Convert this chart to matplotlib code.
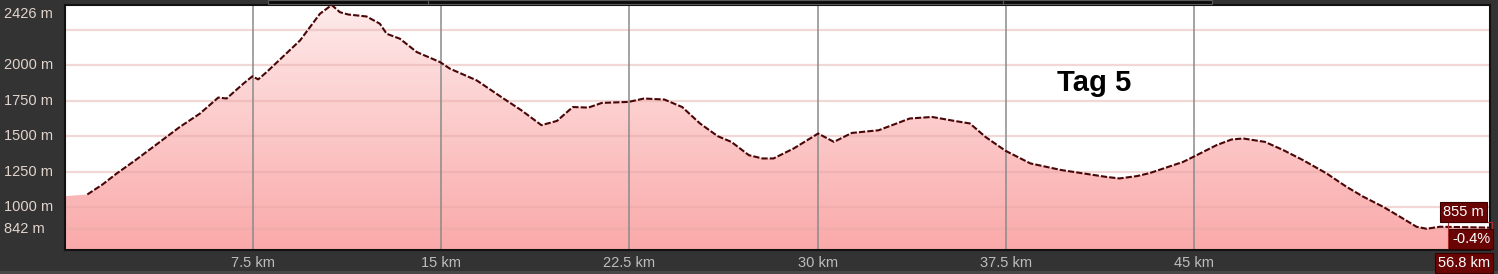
import matplotlib
matplotlib.use("Agg")
import matplotlib.pyplot as plt
import matplotlib.transforms as mtransforms
from matplotlib.patches import Rectangle
from matplotlib.colors import LinearSegmentedColormap
import numpy as np

# ---- data ----
dist_km = [0.0, 0.89, 1.5, 2.06, 2.8, 3.52, 4.58, 5.38, 6.11, 6.44, 7.11, 7.47, 7.70,
           8.04, 9.37, 10.16, 10.63, 10.96, 11.29, 12.02, 12.55, 12.82, 13.35, 14.02,
           14.95, 15.34, 16.41, 17.48, 18.19, 18.99, 19.61, 20.24, 20.86, 21.40, 22.46,
           23.08, 23.89, 24.60, 25.31, 26.02, 26.56, 27.26, 27.80, 28.24, 29.05, 30.02,
           30.65, 31.36, 32.43, 33.67, 34.56, 35.45, 36.07, 36.69, 37.49, 38.48, 39.72,
           40.61, 41.50, 42.03, 42.74, 43.24, 44.57, 44.97, 45.90, 46.50, 46.96, 47.83,
           48.56, 49.35, 50.29, 51.08, 51.75, 52.54, 53.21, 53.87, 54.27, 54.80, 56.8]
elev_m = [1077, 1089, 1160, 1237, 1330, 1425, 1566, 1660, 1773, 1766, 1871, 1923, 1901,
          1953, 2176, 2364, 2426, 2375, 2359, 2345, 2294, 2223, 2188, 2094,
          2023, 1977, 1894, 1766, 1683, 1578, 1608, 1706, 1702, 1735, 1742,
          1766, 1759, 1706, 1590, 1500, 1460, 1366, 1343, 1343, 1414, 1519,
          1460, 1523, 1542, 1625, 1636, 1608, 1590, 1495, 1397, 1308, 1261,
          1237, 1213, 1202, 1219, 1240, 1319, 1354, 1437, 1477, 1484, 1460,
          1402, 1331, 1237, 1143, 1073, 1002, 932, 861, 847, 861, 855]
x_ticks = [7.5, 15, 22.5, 30, 37.5, 45]
x_tick_labels = ["7.5 km", "15 km", "22.5 km", "30 km", "37.5 km", "45 km"]
y_grid = [2250, 2000, 1750, 1500, 1250, 1000, 842]
y_label_vals = [2426, 2000, 1750, 1500, 1250, 1000, 842]
y_labels = ["2426 m", "2000 m", "1750 m", "1500 m", "1250 m", "1000 m", "842 m"]
end_grade = "-0.4%"
title = "Tag 5"

W, H = 1498, 274
BG = "#333333"
FONT = ["Liberation Sans", "DejaVu Sans"]

fig = plt.figure(figsize=(W / 100, H / 100), dpi=100, facecolor=BG)
L, R, T, B = 65, 1490, 5, 250
ax = fig.add_axes([L / W, 1 - B / H, (R - L) / W, (B - T) / H])
ax.set_facecolor("white")

ymin, ymax = 697, 2426
xmax = dist_km[-1]

# gradient fill under profile (light at top, stronger pink at bottom)
poly = ax.fill_between(dist_km, elev_m, ymin, facecolor="none", edgecolor="none")
grad = np.linspace(1, 0, 256).reshape(-1, 1)
cmap = LinearSegmentedColormap.from_list("pinkgrad", ["#feeaea", "#faa9a9"])
im = ax.imshow(grad, cmap=cmap, aspect="auto", extent=[0, xmax, ymin, ymax],
               origin="lower", zorder=1, interpolation="bilinear")
im.set_clip_path(poly.get_paths()[0], transform=ax.transData)
ax.set_xlim(0, xmax)
ax.set_ylim(ymin, ymax)

# grid lines
for yv in y_grid:
    ax.axhline(yv, color="#e4a8a8", alpha=0.45, lw=1.6, zorder=2)
for xv in x_ticks:
    ax.axvline(xv, color="#8a8a8a", lw=1.1, zorder=2)

# profile line
ax.plot(dist_km[1:], elev_m[1:], color="#4a0606", lw=1.5, zorder=3,
        dashes=(3.0, 1.0), solid_capstyle="butt")

# axes styling
for s in ax.spines.values():
    s.set_color("#111111")
    s.set_linewidth(1.5)
ax.set_yticks([])
ax.set_xticks(x_ticks)
ax.set_xticklabels(x_tick_labels, fontsize=10.5, color="#bdbdbd", family=FONT)
ax.tick_params(axis="x", length=0, pad=4.5)

# y labels (left aligned in margin)
trans = mtransforms.blended_transform_factory(fig.transFigure, ax.transData)
for v, lab in zip(y_label_vals, y_labels):
    tr = trans
    if v == ymax:
        tr = trans + mtransforms.ScaledTranslation(0, -8.5 / 100, fig.dpi_scale_trans)
    fig.text(4 / W, v, lab, transform=tr, ha="left", va="center", fontsize=10.5,
             color="#e2d4cc", family=FONT)

# title text
ax.text(0.7225, 0.68, title, transform=ax.transAxes, ha="center", va="center",
        fontsize=21, fontweight="bold", color="black", family=FONT, zorder=5)

# top tab strip and bottom edge
px = mtransforms.Affine2D().scale(1 / W, -1 / H).translate(0, 1) + fig.transFigure
fig.patches.append(Rectangle((268, 0), 944, 4, transform=px, facecolor="#0c0c0c",
                             edgecolor="#5a5a5a", lw=0.8))
for xd in [428, 1003]:
    fig.lines.append(plt.Line2D([xd, xd], [0, 4], transform=px, color="#5a5a5a", lw=0.8))
fig.patches.append(Rectangle((0, 271), W, 3, transform=px, facecolor="#474747",
                             edgecolor="none"))

# end-of-track annotations
box = dict(boxstyle="square,pad=0.2", facecolor="#6a0505", edgecolor="#3a0000", lw=0.8)
fig.patches.append(Rectangle((1448, 222), 44, 26, transform=px, facecolor="none",
                             edgecolor="#b03030", lw=0.8))
fig.text(1463.5 / W, 1 - 212 / H, f"{elev_m[-1]} m", ha="center", va="center",
         fontsize=10.5, color="white", bbox=box, family=FONT)
fig.text(1471 / W, 1 - 239 / H, end_grade, ha="center", va="center",
         fontsize=10.5, color="white", bbox=box, family=FONT)
fig.text(1464 / W, 1 - 263 / H, f"{dist_km[-1]} km", ha="center", va="center",
         fontsize=10.5, color="white", bbox=box, family=FONT)

fig.savefig("out.png", dpi=100, facecolor=BG)
